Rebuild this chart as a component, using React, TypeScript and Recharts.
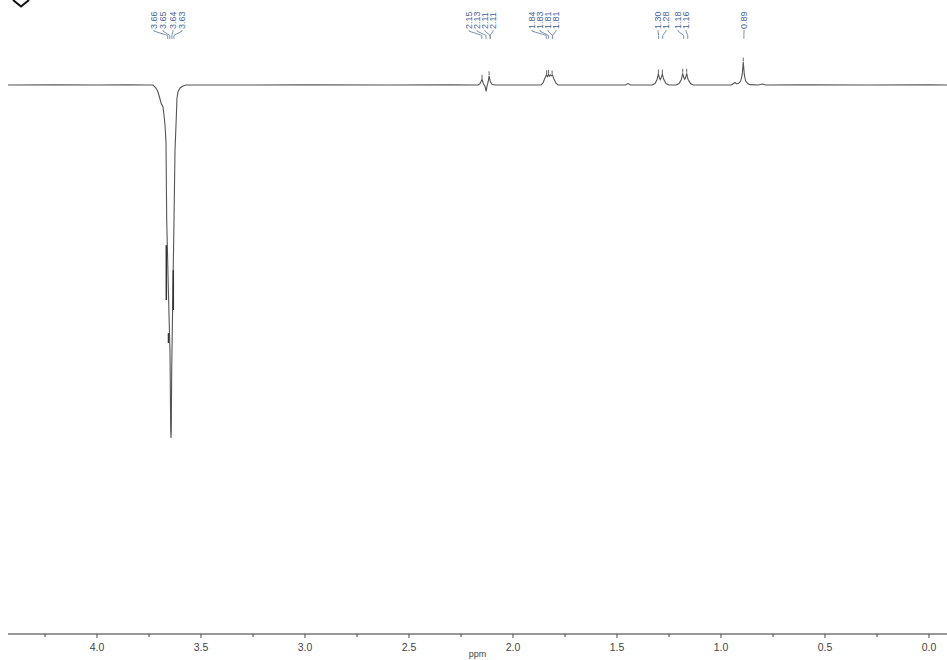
import React from 'react';
import { ComposedChart, Line, XAxis, YAxis, ReferenceLine, ReferenceDot } from 'recharts';

// ---- spectrum data: [ppm, intensity] (intensity: big peak ≈ -100) ----
const leftBaseline: number[][] = [[4.43, 0], [4.2, 0.05], [4.0, 0], [3.85, 0.05], [3.76, 0]];
const peak364: number[][] = [
  [3.7308, 0], [3.7163, -0.85], [3.7067, -1.99], [3.6971, -3.98], [3.6923, -5.11], [3.6827, -6.25],
  [3.6779, -8.52], [3.6731, -11.36], [3.6683, -16.19], [3.6649, -38.35], [3.6572, -57.39], [3.649, -76.14],
  [3.6457, -98.01], [3.6442, -100.28], [3.6428, -98.01], [3.6409, -80.97], [3.6361, -61.93], [3.6298, -38.35],
  [3.625, -18.47], [3.6202, -11.36], [3.6154, -3.69], [3.6106, -1.99], [3.601, -0.85], [3.5865, -0.28], [3.5721, 0],
];
const midBaseline: number[][] = [[3.3, 0], [3.0, 0.05], [2.6, 0], [2.3, 0.05], [2.18, 0]];
const group215: number[][] = [
  [2.168, 0], [2.159, 0.3], [2.149, 1.6], [2.142, 0.3], [2.135, -0.3], [2.129, -1.8], [2.125, -0.3],
  [2.119, 1.0], [2.115, 2.6], [2.109, 0.9], [2.101, 0.2], [2.087, 0],
];
const group184: number[][] = [
  [1.8654, 0], [1.8558, 0.6], [1.8462, 2.0], [1.8389, 2.9], [1.8341, 2.4], [1.8293, 3.0], [1.8245, 2.5],
  [1.8197, 2.9], [1.8149, 2.6], [1.8101, 2.8], [1.8029, 1.6], [1.7933, 0.5], [1.7837, 0],
];
const smallBump: number[][] = [[1.6, 0], [1.46, 0], [1.447, 0.4], [1.435, 0]];
const group130: number[][] = [
  [1.3317, 0], [1.3173, 0.4], [1.3077, 1.5], [1.3014, 3.1], [1.2957, 2.0], [1.2918, 1.5], [1.2875, 2.1],
  [1.2822, 3.1], [1.2755, 1.6], [1.2644, 0.4], [1.25, 0],
];
const group118: number[][] = [
  [1.2163, 0], [1.2019, 0.4], [1.1909, 1.5], [1.1841, 3.3], [1.1788, 2.1], [1.1745, 1.6], [1.1702, 2.1],
  [1.1649, 3.3], [1.1587, 1.6], [1.1466, 0.4], [1.1346, 0],
];
const peak089: number[][] = [
  [0.95, 0], [0.933, 0.7], [0.925, 0.3], [0.915, 0.5], [0.905, 1.2], [0.898, 3.0], [0.893, 6.5],
  [0.888, 3.0], [0.882, 1.2], [0.872, 0.4], [0.86, 0.1], [0.82, 0], [0.802, 0.3], [0.785, 0],
];
const rightBaseline: number[][] = [[0.6, 0.05], [0.3, 0], [0.0, 0.05], [-0.09, 0]];

// ---- peak-pick marks ----
const positiveMarks: number[][] = [
  [2.149, 1.6], [2.115, 2.6], [1.838, 2.9], [1.829, 3.0], [1.812, 2.8],
  [1.301, 3.1], [1.282, 3.1], [1.184, 3.3], [1.165, 3.3], [0.893, 6.5],
];
const negativeMarks: number[][] = [[3.6668, -45.5, -61.1], [3.6332, -52.6, -63.9], [3.6563, -70.5, -73.3]];

// ---- peak labels ----
const labelTexts = ['3.66', '3.65', '3.64', '3.63', '2.15', '2.13', '2.11', '2.11', '1.84', '1.83', '1.81', '1.81', '1.30', '1.28', '1.18', '1.16', '0.89'];
const labelPpm = [3.726, 3.6827, 3.6346, 3.5913, 2.2115, 2.1731, 2.1346, 2.0962, 1.9087, 1.8702, 1.8317, 1.7933, 1.3029, 1.2644, 1.2067, 1.1683, 0.8894];
const peakPpm = [3.66, 3.65, 3.64, 3.63, 2.15, 2.13, 2.11, 2.11, 1.84, 1.83, 1.81, 1.81, 1.30, 1.28, 1.18, 1.16, 0.89];

// ---- axis ticks ----
const majorTicks = [0, 0.5, 1.0, 1.5, 2.0, 2.5, 3.0, 3.5, 4.0];
const minorTicks = [0.25, 0.75, 1.25, 1.75, 2.25, 2.75, 3.25, 3.75, 4.25];

const spectrum = [
  ...leftBaseline, ...peak364, ...midBaseline, ...group215, ...group184, ...smallBump,
  ...group130, ...group118, ...peak089, ...rightBaseline,
]
  .map(([ppm, i]) => ({ ppm, i }))
  .sort((a, b) => b.ppm - a.ppm);

const allTicks = [...majorTicks, ...minorTicks].sort((a, b) => a - b);

const FONT = '"Liberation Sans", Arial, sans-serif';
const LABEL_Y = 15.9;
const CONN_A = 15.3;
const CONN_B = 14.1;
const CONN_C = 13.1;
const LABEL_COLOR = '#46679a';
const CONN_COLOR = '#7d92ae';

const Tick = (props: any) => {
  const { x, y, payload } = props;
  const v = payload.value as number;
  const major = Math.abs(v * 2 - Math.round(v * 2)) < 1e-6;
  return (
    <g>
      <line x1={x} x2={x} y1={y} y2={y + (major ? 4 : 3)} stroke="#444" strokeWidth={1} />
      {major && (
        <text x={x} y={y + 13} textAnchor="middle" dominantBaseline="central" fontSize={10.5} fill="#444" fontFamily={FONT}>
          {v.toFixed(1)}
        </text>
      )}
    </g>
  );
};

export default function App() {
  return (
    <div style={{ position: 'absolute', left: 0, top: 0, width: 947, height: 660, background: '#fff' }}>
      <ComposedChart
        width={947}
        height={660}
        data={spectrum}
        margin={{ top: 0, right: 0, bottom: 0, left: 8 }}
        style={{ fontFamily: FONT }}
      >
        <XAxis
          dataKey="ppm"
          type="number"
          domain={[-0.0865, 4.4279]}
          allowDataOverflow
          reversed
          ticks={allTicks}
          interval={0}
          tickSize={0}
          tickMargin={0}
          tick={<Tick />}
          height={26}
          axisLine={{ stroke: '#333', strokeWidth: 1 }}
          label={{ value: 'ppm', position: 'insideBottom', offset: 3, fontSize: 9, fill: '#444' }}
        />
        <YAxis hide type="number" domain={[-155.97, 24.15]} allowDataOverflow />
        <Line
          type="linear"
          dataKey="i"
          stroke="#555"
          strokeWidth={1.1}
          dot={false}
          activeDot={false}
          isAnimationActive={false}
        />
        {positiveMarks.map(([p, v], k) => (
          <ReferenceLine
            key={'pm' + k}
            segment={[{ x: p, y: v + 0.2 }, { x: p, y: v + 1.3 }]}
            stroke="#666"
            strokeWidth={1}
          />
        ))}
        {negativeMarks.map(([p, a, b], k) => (
          <ReferenceLine
            key={'nm' + k}
            segment={[{ x: p, y: a }, { x: p, y: b }]}
            stroke="#333"
            strokeWidth={1.5}
          />
        ))}
        {labelTexts.map((t, k) => (
          <ReferenceLine
            key={'c1' + k}
            segment={[{ x: labelPpm[k], y: LABEL_Y - 0.3 }, { x: labelPpm[k], y: CONN_A }]}
            stroke={CONN_COLOR}
            strokeWidth={1}
          />
        ))}
        {labelTexts.map((t, k) => (
          <ReferenceLine
            key={'c2' + k}
            segment={[{ x: labelPpm[k], y: CONN_A }, { x: peakPpm[k], y: CONN_B }]}
            stroke={CONN_COLOR}
            strokeWidth={1}
          />
        ))}
        {labelTexts.map((t, k) => (
          <ReferenceLine
            key={'c3' + k}
            segment={[{ x: peakPpm[k], y: CONN_B }, { x: peakPpm[k], y: CONN_C }]}
            stroke={CONN_COLOR}
            strokeWidth={1}
          />
        ))}
        {labelTexts.map((t, k) => (
          <ReferenceDot
            key={'lb' + k}
            x={labelPpm[k]}
            y={LABEL_Y}
            r={0}
            shape={(p: any) => (
              <text
                x={p.cx}
                y={p.cy}
                transform={`rotate(-90 ${p.cx} ${p.cy})`}
                textAnchor="start"
                dominantBaseline="central"
                fontSize={9}
                fill={LABEL_COLOR}
                fontFamily={FONT}
              >
                {t}
              </text>
            )}
          />
        ))}
      </ComposedChart>
      <svg width={40} height={12} style={{ position: 'absolute', left: 0, top: 0 }}>
        <polyline points="13,0 21,6.5 29,0" fill="none" stroke="#111" strokeWidth={2} />
      </svg>
    </div>
  );
}
